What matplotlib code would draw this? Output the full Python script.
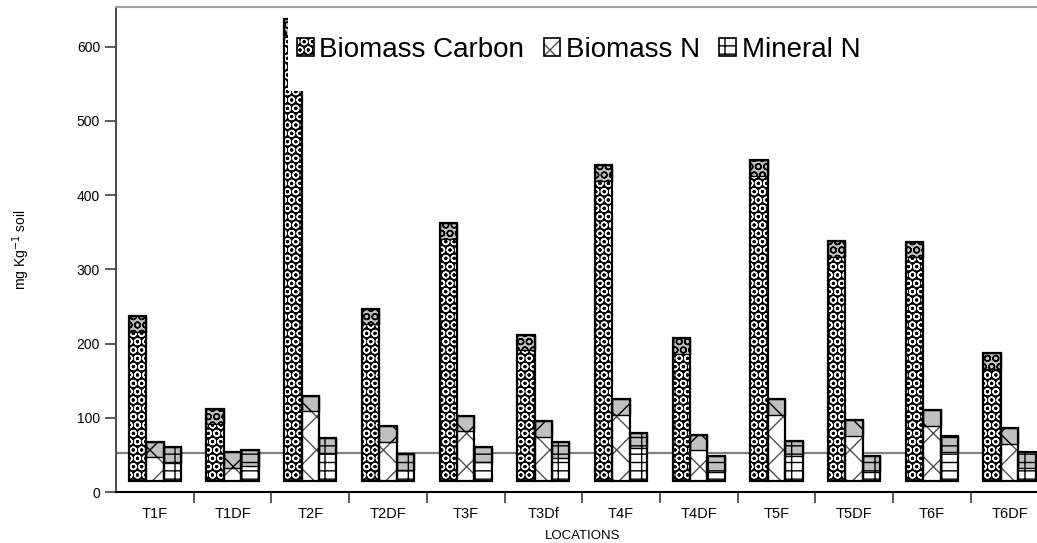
import numpy as np
import matplotlib.pyplot as plt
from matplotlib.patches import Patch, Rectangle
from matplotlib.legend_handler import HandlerTuple

plt.rcParams['font.family'] = ['Liberation Sans', 'DejaVu Sans']
plt.rcParams['hatch.linewidth'] = 1.0

locations = ['T1F', 'T1DF', 'T2F', 'T2DF', 'T3F', 'T3Df',
             'T4F', 'T4DF', 'T5F', 'T5DF', 'T6F', 'T6DF']
biomass_c = [237, 112, 637, 247, 362, 212, 440, 207, 447, 338, 337, 187]
biomass_n = [68, 54, 130, 89, 103, 95, 125, 77, 125, 97, 110, 86]
mineral_n = [60, 56, 73, 51, 61, 67, 80, 48, 69, 48, 75, 54]
floor_line = 53     # back-wall line of the 3D chart
base = 15           # bars start on the 3D floor
cap = 21            # grey top face of each column

fig = plt.figure(figsize=(10.37, 5.43), dpi=100)
ax = fig.add_axes([116 / 1037, 51 / 543, 932.4 / 1037, 484.7 / 543])

x = np.arange(len(locations))
w = 0.224
series = [
    (biomass_c, -w, 'black', 'white', 'OO'),
    (biomass_n, 0, 'white', '#505050', 'x'),
    (mineral_n, w, 'white', 'black', '--|'),
]

ax.axhline(floor_line, color='#808080', lw=1.6, zorder=0)

for vals, off, face, hcol, hatch in series:
    vals = np.array(vals, dtype=float)
    ax.bar(x + off, vals - base, bottom=base, width=w, color=face,
           edgecolor=hcol, hatch=hatch, lw=0, zorder=2)
    ax.bar(x + off, cap, bottom=vals - cap, width=w, color='#c0c0c0',
           edgecolor='black', hatch=hatch, lw=1.0, zorder=3)
    ax.bar(x + off, vals - base, bottom=base, width=w, fill=False,
           edgecolor='black', lw=1.6, zorder=4)

ax.set_xlim(-0.5, 11.5)
ax.set_ylim(0, 653)
ax.set_yticks(range(0, 601, 100))
ax.set_xticks(x)
ax.set_xticklabels(locations, fontsize=10.5)
ax.set_xticks(np.arange(0.5, 11.6, 1), minor=True)
ax.tick_params(axis='x', which='major', length=0, pad=11)
ax.tick_params(axis='x', which='minor', length=8, width=1.2, color='#404040')
ax.tick_params(axis='y', labelsize=10, length=8, width=1.2, color='#404040')

ax.spines['right'].set_visible(False)
ax.spines['top'].set_color('#a0a0a0')
ax.spines['top'].set_linewidth(1.5)
ax.spines['left'].set_color('#505050')
ax.spines['left'].set_linewidth(1.5)
ax.spines['bottom'].set_linewidth(1.5)

ax.set_xlabel('LOCATIONS', fontsize=9.5, labelpad=6)
ax.set_ylabel('mg Kg$^{-1}$ soil', fontsize=10, labelpad=32)

# white legend area covering the top of the tallest column
ax.add_patch(Rectangle((288 / 1037, 1 - 91 / 543), 590 / 1037, 82 / 543,
                       transform=fig.transFigure, facecolor='white',
                       edgecolor='none', zorder=8, clip_on=False))

handles = []
for vals, off, face, hcol, hatch in series:
    handles.append((Patch(facecolor=face, edgecolor=hcol, hatch=hatch, lw=0),
                    Patch(fill=False, edgecolor='black', lw=1.2)))
leg = ax.legend(handles, ['Biomass Carbon', 'Biomass N', 'Mineral N'],
                handler_map={tuple: HandlerTuple(ndivide=1)},
                ncol=3, frameon=False, fontsize=20,
                loc='center left', bbox_to_anchor=(297 / 1037, 1 - 50 / 543),
                bbox_transform=fig.transFigure, borderpad=0, borderaxespad=0,
                handlelength=0.6, handleheight=0.6, handletextpad=0.2,
                columnspacing=0.7)
leg.set_zorder(10)

fig.savefig('out.png', dpi=100)
